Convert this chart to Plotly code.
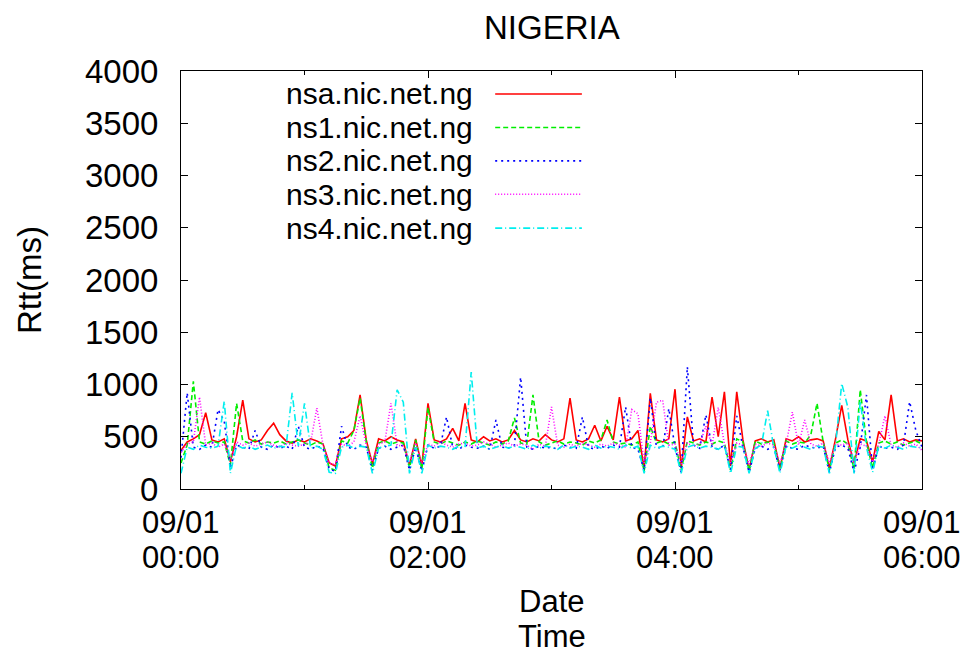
import pandas as pd
import plotly.graph_objects as go

# time axis: 09/01 00:00 - 06:00, one sample every 3 minutes (121 samples)
times = pd.date_range("2010-09-01 00:00", periods=121, freq="3min")

series_names = ["nsa.nic.net.ng", "ns1.nic.net.ng", "ns2.nic.net.ng",
                "ns3.nic.net.ng", "ns4.nic.net.ng"]

rtt_nsa = [370, 450, 480, 520, 730, 470, 450, 480, 260, 500,
           850, 480, 450, 470, 560, 630, 520, 460, 440, 470,
           450, 480, 460, 430, 250, 220, 480, 500, 560, 900,
           470, 240, 480, 460, 500, 470, 450, 230, 480, 220,
           820, 470, 450, 480, 580, 460, 820, 470, 450, 500,
           460, 480, 450, 470, 560, 470, 450, 480, 460, 520,
           470, 450, 480, 870, 470, 450, 480, 610, 460, 600,
           470, 880, 460, 480, 560, 200, 915, 470, 450, 480,
           955, 200, 690, 460, 480, 450, 880, 500, 930, 220,
           930, 470, 180, 460, 480, 450, 470, 200, 480, 460,
           500, 450, 470, 480, 460, 200, 480, 800, 470, 250,
           480, 460, 260, 550, 470, 900, 460, 480, 450, 470,
           460]

rtt_ns1 = [250, 420, 1030, 450, 430, 460, 440, 450, 230, 820,
           460, 440, 470, 430, 450, 440, 460, 430, 450, 470,
           440, 420, 450, 430, 200, 180, 460, 440, 560, 870,
           450, 200, 440, 460, 430, 450, 440, 200, 470, 190,
           780, 450, 430, 460, 440, 420, 450, 430, 460, 440,
           420, 450, 430, 460, 680, 440, 430, 900, 450, 420,
           440, 460, 430, 450, 440, 420, 460, 440, 470, 660,
           450, 430, 440, 420, 450, 170, 600, 440, 460, 430,
           450, 180, 460, 440, 420, 450, 430, 460, 440, 180,
           480, 450, 170, 460, 430, 450, 440, 190, 460, 430,
           450, 440, 520, 820, 450, 180, 440, 470, 430, 190,
           950, 450, 200, 440, 460, 430, 450, 420, 440, 460,
           430]

rtt_ns2 = [300, 920, 400, 380, 420, 400, 760, 650, 200, 420,
           400, 380, 560, 400, 380, 420, 390, 410, 380, 600,
           400, 380, 410, 390, 190, 170, 600, 400, 380, 420,
           400, 180, 390, 410, 380, 400, 420, 180, 400, 170,
           420, 390, 410, 690, 400, 380, 420, 400, 390, 410,
           380, 660, 400, 390, 420, 1070, 400, 380, 410, 390,
           400, 380, 420, 400, 390, 690, 400, 380, 410, 390,
           420, 400, 785, 400, 380, 180, 870, 400, 390, 770,
           400, 160, 1170, 420, 390, 710, 400, 380, 420, 180,
           700, 400, 160, 390, 410, 380, 400, 180, 410, 390,
           380, 420, 400, 390, 410, 160, 400, 420, 390, 160,
           400, 900, 180, 410, 390, 400, 380, 420, 835, 560,
           400]

rtt_ns3 = [350, 430, 450, 880, 420, 440, 400, 430, 280, 450,
           420, 440, 410, 430, 450, 420, 400, 440, 420, 410,
           430, 450, 775, 420, 250, 230, 430, 410, 450, 700,
           420, 260, 430, 450, 820, 420, 410, 260, 440, 240,
           430, 410, 450, 420, 400, 430, 440, 410, 420, 450,
           430, 400, 420, 440, 410, 430, 420, 380, 430, 410,
           785, 420, 400, 430, 410, 440, 420, 400, 430, 410,
           440, 420, 400, 760, 720, 250, 440, 830, 850, 420,
           430, 240, 440, 410, 430, 600, 420, 780, 430, 250,
           440, 420, 240, 430, 410, 440, 420, 250, 430, 735,
           420, 660, 430, 410, 440, 250, 430, 420, 440, 240,
           430, 410, 260, 430, 700, 420, 400, 440, 410, 430,
           370]

rtt_ns4 = [150, 400, 380, 420, 400, 390, 410, 840, 150, 420,
           390, 410, 380, 400, 420, 390, 410, 400, 920, 410,
           820, 390, 410, 380, 160, 150, 400, 420, 390, 410,
           400, 150, 390, 410, 420, 950, 830, 150, 400, 150,
           420, 390, 410, 400, 380, 410, 400, 1120, 390, 410,
           380, 400, 420, 390, 410, 400, 380, 420, 390, 410,
           400, 380, 420, 390, 410, 400, 380, 420, 390, 410,
           400, 380, 420, 390, 410, 150, 420, 390, 410, 400,
           380, 150, 400, 420, 390, 410, 400, 380, 420, 150,
           410, 400, 150, 390, 420, 750, 400, 150, 410, 390,
           420, 400, 380, 410, 400, 150, 420, 1010, 780, 150,
           840, 400, 160, 410, 390, 420, 400, 380, 410, 400,
           390]

x_tick_vals = ["2010-09-01 00:00", "2010-09-01 02:00",
               "2010-09-01 04:00", "2010-09-01 06:00"]
x_tick_date = ["09/01", "09/01", "09/01", "09/01"]
x_tick_time = ["00:00", "02:00", "04:00", "06:00"]

# gnuplot style colours / dash patterns
colors = ["#ff0000", "#00ee00", "#0000ff", "#ff00ff", "#00eeee"]
dashes = ["solid", "5px,3px", "2px,4px", "1px,2px", "7px,3px,1px,3px"]

font_name = "Liberation Sans, Arial, sans-serif"
fsize = 33
fsize_x = 31     # stacked x labels, slightly smaller so lines do not collide
fsize_leg = 30   # legend rows are tightly packed too

fig = go.Figure()

all_series = [rtt_nsa, rtt_ns1, rtt_ns2, rtt_ns3, rtt_ns4]
for name, vals, col, dsh in zip(series_names, all_series, colors, dashes):
    fig.add_trace(go.Scatter(
        x=times, y=vals, mode="lines", name=name,
        line=dict(color=col, width=1.6, dash=dsh),
        showlegend=False,
    ))

# legend drawn gnuplot-like: text right aligned, sample line to the right
legend_y = [0.945, 0.865, 0.785, 0.705, 0.624]
for name, col, dsh, ly in zip(series_names, colors, dashes, legend_y):
    fig.add_annotation(
        x=0.397, y=ly, xref="paper", yref="paper",
        text=name, showarrow=False, xanchor="right", yanchor="middle",
        font=dict(family=font_name, size=fsize_leg, color="black"),
    )
    fig.add_shape(
        type="line", xref="paper", yref="paper",
        x0=0.424, x1=0.541, y0=ly, y1=ly,
        line=dict(color=col, width=1.6, dash=dsh),
    )

# two-line x tick labels (gnuplot spacing is tighter than plotly's <br>)
for tv, d, t in zip(x_tick_vals, x_tick_date, x_tick_time):
    fig.add_annotation(x=tv, y=-0.079, xref="x", yref="paper", text=d,
                       showarrow=False, yanchor="middle",
                       font=dict(family=font_name, size=fsize_x))
    fig.add_annotation(x=tv, y=-0.163, xref="x", yref="paper", text=t,
                       showarrow=False, yanchor="middle",
                       font=dict(family=font_name, size=fsize_x))

# axis titles and chart title
fig.add_annotation(x=0.5, y=-0.270, xref="paper", yref="paper", text="Date",
                   showarrow=False, yanchor="middle",
                   font=dict(family=font_name, size=fsize_x))
fig.add_annotation(x=0.5, y=-0.353, xref="paper", yref="paper", text="Time",
                   showarrow=False, yanchor="middle",
                   font=dict(family=font_name, size=fsize_x))
fig.add_annotation(x=-0.205, y=0.5, xref="paper", yref="paper",
                   text="Rtt(ms)", textangle=-90, showarrow=False,
                   xanchor="center", yanchor="middle",
                   font=dict(family=font_name, size=fsize))
fig.add_annotation(x=0.5, y=1.105, xref="paper", yref="paper",
                   text="NIGERIA", showarrow=False, yanchor="middle",
                   font=dict(family=font_name, size=fsize))

# the page body adds an 8px offset, so margins are shifted to compensate
fig.update_layout(
    width=968, height=653,
    margin=dict(l=173, r=54, t=63, b=172, autoexpand=False),
    paper_bgcolor="white", plot_bgcolor="white",
    font=dict(family=font_name, size=fsize, color="black"),
)

fig.update_xaxes(
    type="date",
    range=["2010-09-01 00:00", "2010-09-01 06:00"],
    tickvals=x_tick_vals, showticklabels=False,
    ticks="inside", ticklen=7, tickcolor="black", tickwidth=1,
    minor=dict(dtick=3600000, ticks="inside", ticklen=4,
               tickcolor="black", showgrid=False),
    showline=True, linecolor="black", linewidth=1, mirror="allticks",
    showgrid=False, zeroline=False, automargin=False,
)

fig.update_yaxes(
    range=[0, 4000], dtick=500,
    ticks="inside", ticklen=7, tickcolor="black", tickwidth=1,
    showline=True, linecolor="black", linewidth=1, mirror="allticks",
    showgrid=False, zeroline=False, automargin=False,
    ticklabelstandoff=15,
    tickfont=dict(size=fsize),
)

fig.write_html("out.html")
